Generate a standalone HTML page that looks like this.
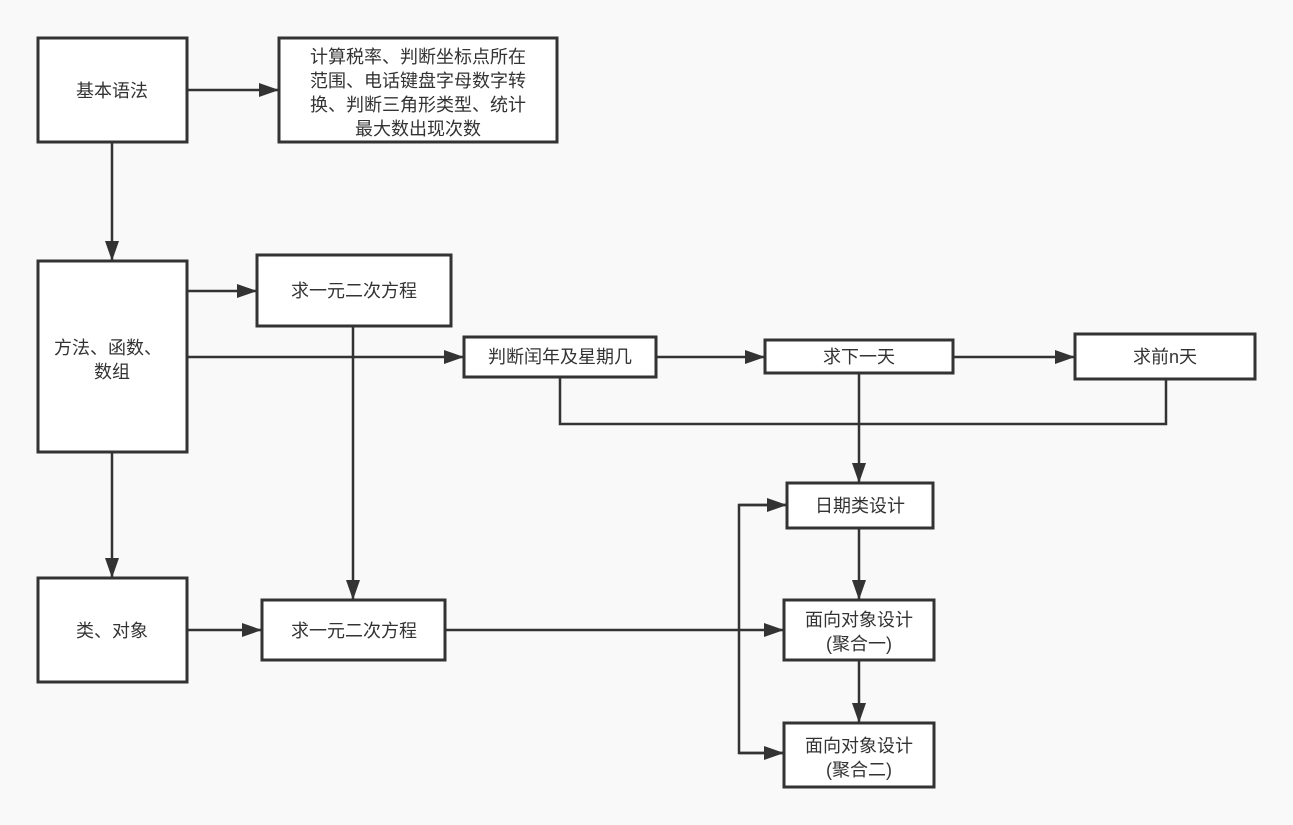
<!DOCTYPE html>
<html><head><meta charset="utf-8"><style>
html,body{margin:0;padding:0;background:#f9f9f9;}
svg{display:block;}
text{font-family:"Liberation Sans","Noto Sans CJK SC",sans-serif;font-size:18px;fill:#333;text-anchor:middle;}
</style></head><body>
<svg width="1293" height="825" viewBox="0 0 1293 825" xmlns="http://www.w3.org/2000/svg">
<defs>
<marker id="ar" markerWidth="20" markerHeight="14" refX="20" refY="7" orient="auto" markerUnits="userSpaceOnUse">
<path d="M0,0 L20,7 L0,14 z" fill="#333"/>
</marker>
</defs>
<g fill="#fff" stroke="#333" stroke-width="3">
<rect x="38" y="38" width="149" height="104"/>
<rect x="279" y="38" width="278" height="104"/>
<rect x="38" y="261" width="149" height="191"/>
<rect x="257" y="255" width="194" height="71"/>
<rect x="464" y="337" width="192" height="40"/>
<rect x="765" y="340" width="188" height="33"/>
<rect x="1075" y="334" width="180" height="45"/>
<rect x="38" y="578" width="149" height="104"/>
<rect x="262" y="600" width="183" height="60"/>
<rect x="787" y="483" width="146" height="45"/>
<rect x="784" y="600" width="150" height="60"/>
<rect x="784" y="723" width="150" height="64"/>
</g>
<g fill="none" stroke="#333" stroke-width="2.5">
<line x1="187" y1="90" x2="279" y2="90" marker-end="url(#ar)"/>
<line x1="112" y1="142" x2="112" y2="261" marker-end="url(#ar)"/>
<line x1="187" y1="291" x2="257" y2="291" marker-end="url(#ar)"/>
<line x1="187" y1="357" x2="464" y2="357" marker-end="url(#ar)"/>
<line x1="656" y1="357" x2="765" y2="357" marker-end="url(#ar)"/>
<line x1="953" y1="357" x2="1075" y2="357" marker-end="url(#ar)"/>
<polyline points="560,377 560,424 1166,424 1166,379"/>
<line x1="859" y1="373" x2="859" y2="483" marker-end="url(#ar)"/>
<line x1="353" y1="326" x2="353" y2="600" marker-end="url(#ar)"/>
<line x1="112" y1="452" x2="112" y2="578" marker-end="url(#ar)"/>
<line x1="187" y1="630" x2="262" y2="630" marker-end="url(#ar)"/>
<line x1="445" y1="630" x2="784" y2="630" marker-end="url(#ar)"/>
<line x1="859" y1="528" x2="859" y2="600" marker-end="url(#ar)"/>
<line x1="859" y1="660" x2="859" y2="723" marker-end="url(#ar)"/>
<polyline points="787,505 739,505 739,753 784,753" />
<line x1="739" y1="505" x2="787" y2="505" marker-end="url(#ar)"/>
<line x1="739" y1="753" x2="784" y2="753" marker-end="url(#ar)"/>
</g>
<text x="112" y="97">基本语法</text>
<text x="418" y="63">计算税率、判断坐标点所在</text>
<text x="418" y="87">范围、电话键盘字母数字转</text>
<text x="418" y="111">换、判断三角形类型、统计</text>
<text x="418" y="135">最大数出现次数</text>
<text x="108" y="354">方法、函数、</text>
<text x="112" y="378">数组</text>
<text x="354" y="297">求一元二次方程</text>
<text x="560" y="363">判断闰年及星期几</text>
<text x="859" y="363">求下一天</text>
<text x="1165" y="363">求前n天</text>
<text x="112" y="637">类、对象</text>
<text x="354" y="637">求一元二次方程</text>
<text x="860" y="512">日期类设计</text>
<text x="859" y="626">面向对象设计</text>
<text x="859" y="650">(聚合一)</text>
<text x="859" y="752">面向对象设计</text>
<text x="859" y="776">(聚合二)</text>
</svg>
</body></html>
